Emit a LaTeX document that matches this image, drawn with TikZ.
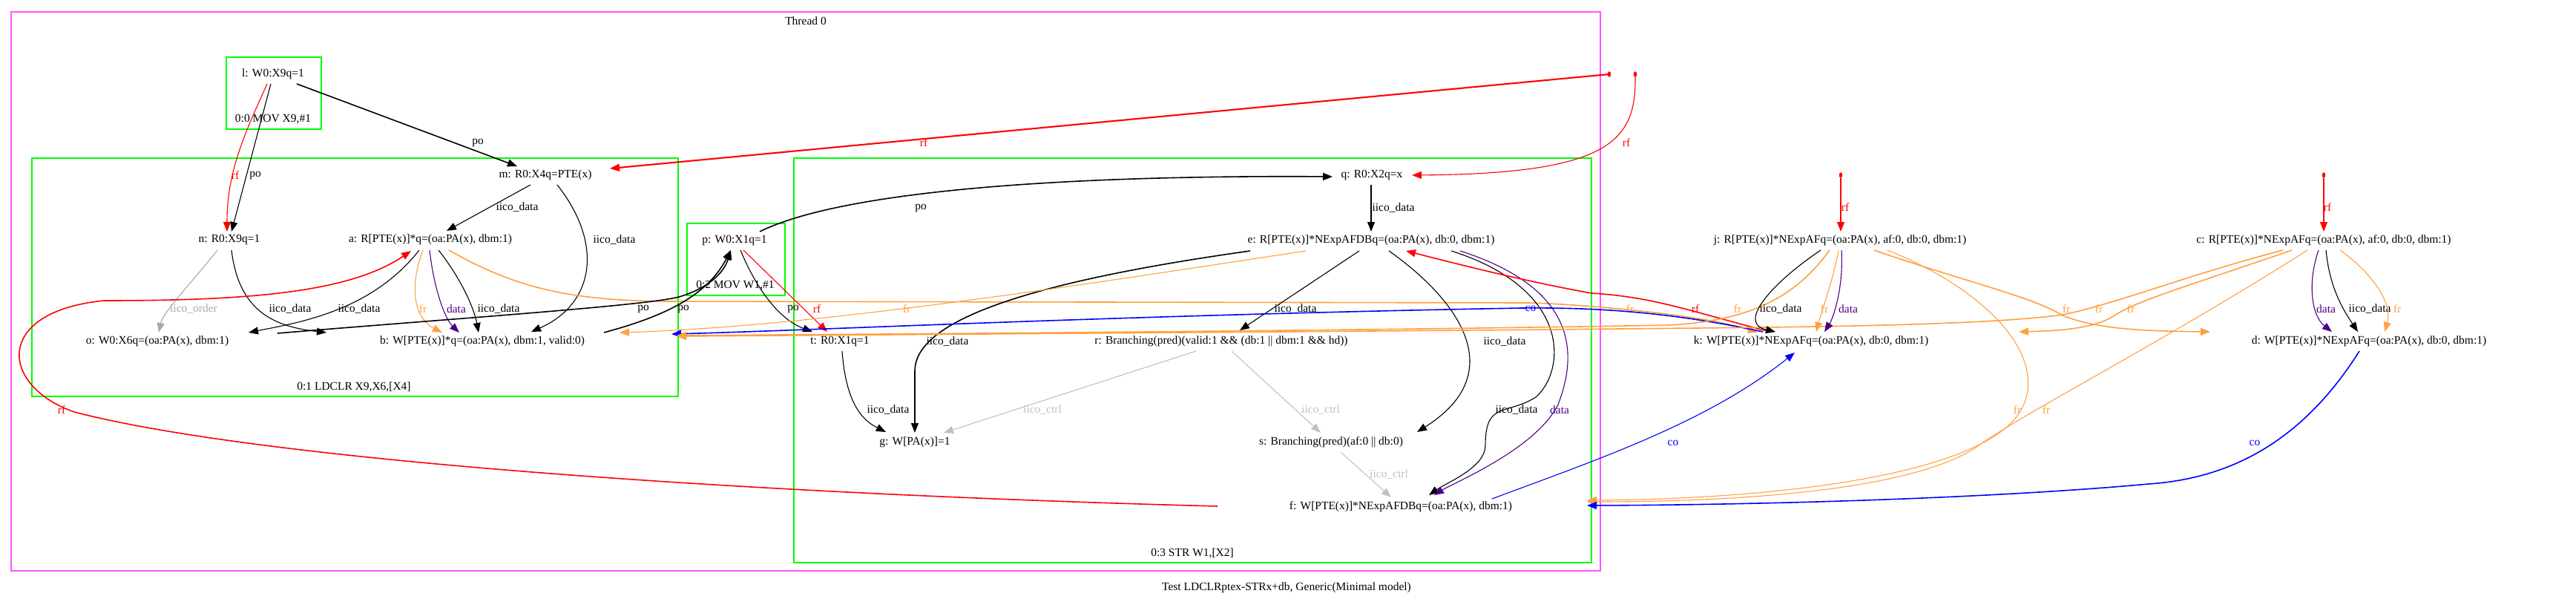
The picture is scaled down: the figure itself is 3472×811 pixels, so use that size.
\documentclass[tikz,border=0pt]{standalone}
\usepackage{fontspec}
\setmainfont{Liberation Serif}
\usetikzlibrary{arrows.meta,calc,shapes.geometric}
\definecolor{gvred}{RGB}{255,0,0}
\definecolor{gvblue}{RGB}{0,0,255}
\definecolor{gvorange}{RGB}{255,160,64}
\definecolor{gvpurple}{RGB}{75,0,130}
\definecolor{gvgray}{RGB}{169,169,169}
\definecolor{gvsilver}{RGB}{192,192,192}
\definecolor{gvgreen}{RGB}{0,255,0}
\definecolor{gvmag}{RGB}{255,85,255}
\begin{document}
\begin{tikzpicture}[x=1pt,y=-1pt,
  txt/.style={inner sep=0pt,font=\fontsize{15.5}{18}\selectfont},
  ev/.style={txt},
  el/.style={txt},
  dotst/.style={ellipse,fill=gvred,draw=gvred,inner sep=0pt,minimum width=4pt,minimum height=7pt},
  edg/.style={line width=1.1pt,-{Triangle[length=13pt,width=10pt]}},
  mid/.style={line width=1.6pt},
  thk/.style={line width=2.1pt},
  clus/.style={draw=gvgreen,line width=2pt},
  blk/.style={edg,black},
  rfe/.style={edg,gvred},
  fre/.style={edg,gvorange},
  dae/.style={edg,gvpurple},
  coe/.style={edg,gvblue},
  ord/.style={edg,gvgray},
  ctl/.style={edg,gvsilver}
]
\useasboundingbox (0,0) rectangle (3472,811);
% clusters
\draw[draw=gvmag,line width=1.6pt] (15,16) rectangle (2157,769);
\node[txt] (th) at (1086,28) {Thread 0};
\draw[clus] (305,77) rectangle (433,174);
\node[txt] (c00) at (368,161) {0:0 MOV X9,\#1};
\draw[clus] (43,213) rectangle (914,534);
\node[txt] (c01) at (477,521) {0:1 LDCLR X9,X6,[X4]};
\draw[clus] (926,301) rectangle (1058,398);
\node[txt] (c02) at (991,385) {0:2 MOV W1,\#1};
\draw[clus] (1070,213) rectangle (2145,758);
\node[txt] (c03) at (1607,745) {0:3 STR W1,[X2]};
\node[txt] (cap) at (1734,792) {Test LDCLRptex-STRx+db, Generic(Minimal model)};
% nodes
\node[ev] (l) at (368,100) {l: W0:X9q=1};
\node[ev] (m) at (735,236) {m: R0:X4q=PTE(x)};
\node[ev] (n) at (309,323) {n: R0:X9q=1};
\node[ev] (a) at (580,323) {a: R[PTE(x)]*q=(oa:PA(x), dbm:1)};
\node[ev] (o) at (212,460) {o: W0:X6q=(oa:PA(x), dbm:1)};
\node[ev] (b) at (650,460) {b: W[PTE(x)]*q=(oa:PA(x), dbm:1, valid:0)};
\node[ev] (p) at (990,324) {p: W0:X1q=1};
\node[ev] (t) at (1132,460) {t: R0:X1q=1};
\node[ev] (q) at (1849,236) {q: R0:X2q=x};
\node[ev] (e) at (1848,324) {e: R[PTE(x)]*NExpAFDBq=(oa:PA(x), db:0, dbm:1)};
\node[ev] (r) at (1646,460) {r: Branching(pred)(valid:1 \&\& (db:1 || dbm:1 \&\& hd))};
\node[ev] (g) at (1233,596) {g: W[PA(x)]=1};
\node[ev] (s) at (1794,596) {s: Branching(pred)(af:0 || db:0)};
\node[ev] (f) at (1888,683) {f: W[PTE(x)]*NExpAFDBq=(oa:PA(x), dbm:1)};
\node[ev] (j) at (2480,324) {j: R[PTE(x)]*NExpAFq=(oa:PA(x), af:0, db:0, dbm:1)};
\node[ev] (c) at (3132,324) {c: R[PTE(x)]*NExpAFq=(oa:PA(x), af:0, db:0, dbm:1)};
\node[ev] (k) at (2441,460) {k: W[PTE(x)]*NExpAFq=(oa:PA(x), db:0, dbm:1)};
\node[ev] (d) at (3193,460) {d: W[PTE(x)]*NExpAFq=(oa:PA(x), db:0, dbm:1)};
\node[dotst] (dm) at (2169,100) {};
\node[dotst] (dq) at (2204,100) {};
\node[dotst] (dj) at (2481,236) {};
\node[dotst] (dc) at (3132,236) {};
% edges
\draw[blk,mid] ($(l)+(32,13)$) -- ($(m)+(-38,-12)$);
\node[el] (L1) at (644,192) {po};
\draw[rfe] ($(l)+(-8,13)$) .. controls (330,180) and (306,230) .. ($(n)+(-3,-11)$);
\node[el,text=gvred] (L2) at (317,236) {rf};
\draw[blk] ($(l)+(-3,13)$) -- ($(n)+(3,-11)$);
\node[el] (L3) at (344,236) {po};
\draw[blk] ($(m)+(-20,13)$) -- ($(a)+(22,-12)$);
\node[el] (L4) at (697,279) {iico\_data};
\draw[blk] ($(m)+(16,13)$) .. controls (815,330) and (800,410) .. ($(b)+(66,-13)$);
\node[el] (L5) at (828,323) {iico\_data};
\draw[ord] ($(n)+(-16,14)$) .. controls (255,385) and (220,420) .. ($(o)+(2,-12)$);
\node[el,text=gvgray] (L6) at (261,416) {iico\_order};
\draw[blk] ($(n)+(3,14)$) .. controls (322,420) and (370,440) .. ($(b)+(-210,-12)$);
\node[el] (L7) at (391,416) {iico\_data};
\draw[blk] ($(a)+(-15,14)$) .. controls (500,420) and (400,435) .. ($(o)+(123,-12)$);
\node[el] (L8) at (484,416) {iico\_data};
\draw[fre] ($(a)+(-10,14)$) .. controls (550,390) and (560,430) .. ($(b)+(-54,-12)$);
\node[el,text=gvorange] (L9) at (570,416) {fr};
\draw[dae] ($(a)+(-1,14)$) .. controls (585,390) and (600,430) .. ($(b)+(-31,-12)$);
\node[el,text=gvpurple] (L10) at (615,416) {data};
\draw[blk] ($(a)+(11,14)$) .. controls (625,380) and (640,420) .. ($(b)+(-5,-12)$);
\node[el] (L11) at (672,416) {iico\_data};
\draw[fre,mid] ($(a)+(25,14)$) .. controls (690,385) and (760,405) .. (900,406) -- (2060,408) .. controls (2140,410) and (2300,425) .. ($(k)+(-72,-12)$);
\node[el,text=gvorange] (L12) at (2197,416) {fr};
\draw[blk,mid] ($(o)+(162,-11)$) .. controls (600,430) and (870,412) .. (915,400) .. controls (950,390) and (975,370) .. ($(p)+(-5,13)$);
\node[el] (L13) at (867,416) {po};
\draw[blk,mid] ($(b)+(164,-12)$) .. controls (880,430) and (950,405) .. ($(p)+(-5,13)$);
\node[el] (L14) at (921,416) {po};
\draw[blk,mid] ($(p)+(34,-12)$) .. controls (1150,250) and (1500,236) .. ($(q)+(-53,2)$);
\node[el] (L15) at (1241,280) {po};
\draw[blk] ($(p)+(8,13)$) .. controls (1020,390) and (1050,430) .. ($(t)+(-37,-13)$);
\node[el] (L16) at (1069,416) {po};
\draw[rfe] ($(p)+(12,13)$) -- ($(t)+(-17,-13)$);
\node[el,text=gvred] (L17) at (1101,416) {rf};
\draw[blk] ($(q)+(-1,13)$) -- ($(e)+(0,-12)$);
\node[el] (L18) at (1878,280) {iico\_data};
\draw[blk,mid] ($(e)+(-163,14)$) .. controls (1350,385) and (1233,440) .. (1233,500) -- ($(g)+(0,-13)$);
\node[el] (L19) at (1277,460) {iico\_data};
\draw[fre] ($(e)+(-88,14)$) .. controls (1450,385) and (1100,440) .. ($(b)+(185,-12)$);
\node[el,text=gvorange] (L20) at (1222,416) {fr};
\draw[blk] ($(e)+(-16,14)$) -- ($(r)+(25,-15)$);
\node[el] (L21) at (1746,416) {iico\_data};
\draw[blk] ($(e)+(24,14)$) .. controls (1960,400) and (2040,500) .. ($(s)+(116,-14)$);
\node[el] (L22) at (2028,460) {iico\_data};
\draw[blk] ($(e)+(108,14)$) .. controls (2120,390) and (2110,500) .. (2070,535) .. controls (2030,560) and (2002,540) .. (2002,600) .. controls (2002,630) and (1950,650) .. ($(f)+(38,-16)$);
\node[el] (L23) at (2044,552) {iico\_data};
\draw[dae] ($(e)+(120,14)$) .. controls (2130,390) and (2125,480) .. (2100,545) .. controls (2070,605) and (1960,650) .. ($(f)+(45,-16)$);
\node[el,text=gvpurple] (L24) at (2102,552) {data};
\draw[blk] ($(t)+(3,13)$) .. controls (1140,540) and (1160,565) .. ($(g)+(-39,-14)$);
\node[el] (L25) at (1197,552) {iico\_data};
\draw[ctl] ($(r)+(-34,13)$) -- ($(g)+(39,-13)$);
\node[el,text=gvsilver] (L26) at (1405,552) {iico\_ctrl};
\draw[ctl] ($(r)+(14,13)$) -- ($(s)+(-14,-13)$);
\node[el,text=gvsilver] (L27) at (1780,552) {iico\_ctrl};
\draw[ctl] ($(s)+(13,13)$) -- ($(f)+(-13,-13)$);
\node[el,text=gvsilver] (L28) at (1872,639) {iico\_ctrl};
\draw[rfe,mid] ($(f)+(-247,-1)$) .. controls (1000,665) and (350,620) .. (100,555) .. controls (0,520) and (-10,420) .. (140,405) .. controls (330,405) and (470,395) .. ($(a)+(-26,15)$);
\node[el,text=gvred] (L29) at (83,552) {rf};
\draw[rfe,thk] (dm.center) -- ($(m)+(87,-9)$);
\node[el,text=gvred] (L30) at (1245,192) {rf};
\draw[rfe] (dq.south) .. controls (2205,190) and (2170,234) .. ($(q)+(54,0)$);
\node[el,text=gvred] (L31) at (2192,192) {rf};
\draw[rfe,mid] ($(k)+(-55,-13)$) .. controls (2280,420) and (2230,400) .. (2145,395) .. controls (2050,378) and (1950,352) .. ($(e)+(47,14)$);
\node[el,text=gvred] (L32) at (2285,416) {rf};
\draw[coe,mid] ($(k)+(-65,-13)$) .. controls (2250,420) and (2150,414) .. (2050,415) .. controls (1500,425) and (1100,445) .. ($(b)+(255,-10)$);
\node[el,text=gvblue] (L33) at (2063,416) {co};
\draw[fre,mid] ($(j)+(-14,13)$) .. controls (2420,400) and (2360,432) .. (2250,438) .. controls (1800,446) and (1200,450) .. ($(b)+(262,-8)$);
\node[el,text=gvorange] (L34) at (2342,416) {fr};
\draw[fre,mid] ($(c)+(-55,13)$) .. controls (2950,370) and (2850,410) .. (2780,424) .. controls (2650,442) and (2300,441) .. (2100,444) .. controls (1600,448) and (1200,451) .. ($(b)+(262,-7)$);
\node[el,text=gvorange] (L35) at (2829,416) {fr};
\draw[fre,mid] ($(c)+(-43,13)$) .. controls (2950,385) and (2880,405) .. (2850,425) .. controls (2820,445) and (2760,446) .. ($(k)+(280,-13)$);
\node[el,text=gvorange] (L36) at (2872,416) {fr};
\draw[fre] ($(j)+(-2,13)$) .. controls (2470,380) and (2455,420) .. ($(k)+(7,-13)$);
\node[el,text=gvorange] (L37) at (2459,416) {fr};
\draw[dae] ($(j)+(2,13)$) .. controls (2485,390) and (2470,430) .. ($(k)+(18,-13)$);
\node[el,text=gvpurple] (L38) at (2491,416) {data};
\draw[blk] ($(j)+(-26,13)$) .. controls (2390,380) and (2340,435) .. ($(k)+(-48,-13)$);
\node[el] (L39) at (2400,416) {iico\_data};
\draw[fre,mid] ($(j)+(46,13)$) .. controls (2650,380) and (2740,400) .. (2780,425) .. controls (2830,445) and (2900,446) .. ($(d)+(-214,-13)$);
\node[el,text=gvorange] (L40) at (2785,416) {fr};
\draw[fre] ($(j)+(64,13)$) .. controls (2700,400) and (2770,500) .. (2715,565) .. controls (2650,640) and (2400,672) .. ($(f)+(251,-9)$);
\node[el,text=gvorange] (L41) at (2719,552) {fr};
\draw[fre] ($(c)+(-22,13)$) .. controls (2900,470) and (2720,560) .. (2660,605) .. controls (2570,660) and (2350,676) .. ($(f)+(251,-7)$);
\node[el,text=gvorange] (L42) at (2758,552) {fr};
\draw[dae] ($(c)+(-7,13)$) .. controls (3110,380) and (3115,425) .. ($(d)+(-50,-13)$);
\node[el,text=gvpurple] (L43) at (3135,416) {data};
\draw[blk] ($(c)+(3,13)$) .. controls (3140,390) and (3160,420) .. ($(d)+(-15,-13)$);
\node[el] (L44) at (3194,416) {iico\_data};
\draw[fre] ($(c)+(22,13)$) .. controls (3200,370) and (3225,410) .. ($(d)+(21,-13)$);
\node[el,text=gvorange] (L45) at (3231,416) {fr};
\draw[coe] ($(f)+(123,-11)$) .. controls (2150,620) and (2300,570) .. ($(k)+(-22,15)$);
\node[el,text=gvblue] (L46) at (2255,597) {co};
\draw[coe,mid] ($(d)+(-13,13)$) .. controls (3100,600) and (3000,645) .. (2896,652) .. controls (2700,670) and (2400,680) .. ($(f)+(251,-2)$);
\node[el,text=gvblue] (L47) at (3039,597) {co};
\draw[rfe] (dj.south) -- ($(j)+(1,-12)$);
\node[el,text=gvred] (L48) at (2487,279) {rf};
\draw[rfe] (dc.south) -- ($(c)+(0,-12)$);
\node[el,text=gvred] (L49) at (3137,279) {rf};
\end{tikzpicture}
\end{document}
